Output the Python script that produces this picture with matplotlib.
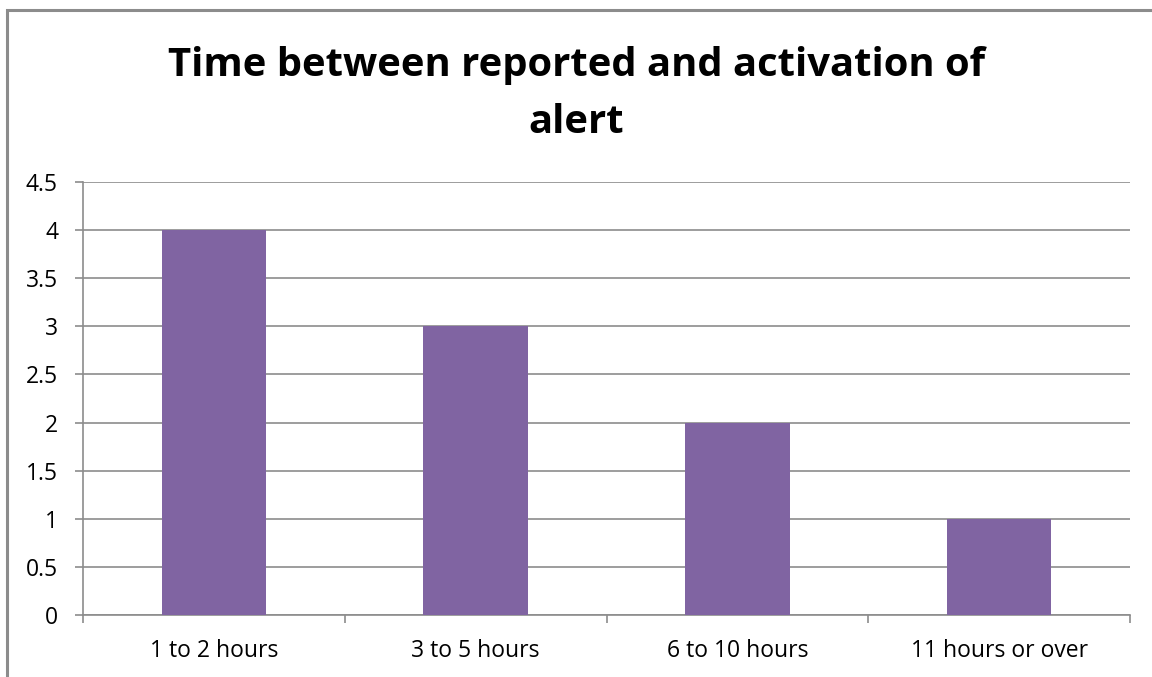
import matplotlib
matplotlib.use("Agg")
import matplotlib.pyplot as plt
from matplotlib.patches import Rectangle

categories = ["1 to 2 hours", "3 to 5 hours", "6 to 10 hours", "11 hours or over"]
values = [4, 3, 2, 1]
y_ticks = [0, 0.5, 1, 1.5, 2, 2.5, 3, 3.5, 4, 4.5]
y_labels = ["0", "0.5", "1", "1.5", "2", "2.5", "3", "3.5", "4", "4.5"]
title = "Time between reported and activation of\nalert"

plt.rcParams['font.family'] = ['Open Sans', 'DejaVu Sans']

W, H = 1152, 677
fig = plt.figure(figsize=(W / 100, H / 100), dpi=100)

# outer chart border (right and bottom edges run off the image)
fig.patches.append(Rectangle((7 / W, -0.1), 1.2, 1.1 - 10 / H, transform=fig.transFigure,
                             fill=False, edgecolor='#8c8c8c', linewidth=2.2))

ax = fig.add_axes([83 / W, 62 / H, (1130 - 83) / W, (615 - 182) / H])
x = range(len(categories))
ax.bar(x, values, width=0.4, color='#8064A2', zorder=3)

ax.set_xlim(-0.5, len(categories) - 0.5)
ax.set_ylim(0, 4.5)
ax.set_yticks(y_ticks)
ax.set_yticklabels(y_labels)
ax.set_xticks([i + 0.5 for i in range(-1, len(categories))], minor=False)
ax.set_xticklabels([])
ax.set_xticks(list(x), minor=True)
ax.set_xticklabels(categories, minor=True)
ax.tick_params(axis='x', which='minor', length=0, pad=17, labelsize=16.5)
ax.tick_params(axis='x', which='major', length=6, color='#8c8c8c', width=1.2)
ax.tick_params(axis='y', length=6, color='#8c8c8c', width=1.2, labelsize=16.5, pad=12)

ax.grid(axis='y', color='#8c8c8c', linewidth=1.2, zorder=0)
for s in ['top', 'right']:
    ax.spines[s].set_visible(False)
for s in ['left', 'bottom']:
    ax.spines[s].set_color('#8c8c8c')
    ax.spines[s].set_linewidth(1.2)

fig.text(0.5, 1 - 94 / H, title, ha='center', va='center', fontsize=28.8,
         fontweight='bold', linespacing=1.6)

fig.savefig("out.png", dpi=100)
